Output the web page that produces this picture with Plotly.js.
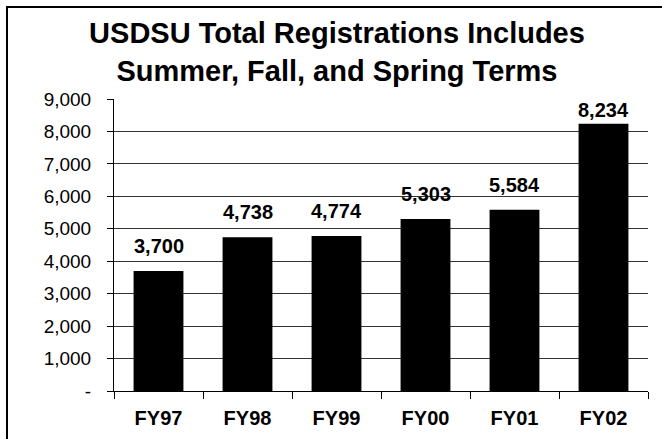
<!DOCTYPE html>
<html>
<head>
<meta charset="utf-8">
<script src="https://cdn.plot.ly/plotly-3.0.1.min.js"></script>
<style>
  html, body { margin: 0; padding: 0; background: #fff; overflow: hidden; }
  #wrap { position: relative; width: 662px; height: 439px; }
  #chart { position: absolute; left: 0; top: 0; width: 662px; height: 439px; }
  #frame { position: absolute; left: 6px; top: 6px; width: 700px; height: 500px;
           border-left: 2px solid #000; border-top: 2px solid #000; pointer-events: none; z-index: 5; }
</style>
</head>
<body>
<div id="wrap">
  <div id="chart"></div>
  <div id="frame"></div>
</div>
<script>
const categories = ["FY97", "FY98", "FY99", "FY00", "FY01", "FY02"];
const registrations = [3700, 4738, 4774, 5303, 5584, 8234];
const yTickVals = [0, 1000, 2000, 3000, 4000, 5000, 6000, 7000, 8000, 9000];
const yTickText = ["-", "1,000", "2,000", "3,000", "4,000", "5,000", "6,000", "7,000", "8,000", "9,000"];
const titleText = "USDSU Total Registrations Includes<br>Summer, Fall, and Spring Terms";

const W = 662, H = 439;
const margin = { l: 114, r: 14, t: 99, b: 48 };
const yMax = 9000;
const pxPerUnit = (H - margin.t - margin.b) / yMax;
const fmt = v => v.toLocaleString("en-US");

const annotations = categories.map((c, i) => {
  const v = registrations[i];
  const room = (yMax - v) * pxPerUnit - 24;
  return {
    x: c, y: v, xref: "x", yref: "y",
    text: "<b>" + fmt(v) + "</b>",
    showarrow: false, yanchor: "bottom", xanchor: "center",
    yshift: Math.max(0, Math.min(12, room)),
    font: { family: "Liberation Sans, Arial, sans-serif", size: 20, color: "#000" }
  };
});

const trace = {
  type: "bar",
  x: categories,
  y: registrations,
  marker: { color: "#000", line: { color: "#000", width: 0 } },
  hoverinfo: "x+y"
};

const layout = {
  width: W, height: H,
  margin: margin,
  paper_bgcolor: "#fff",
  plot_bgcolor: "#fff",
  showlegend: false,
  bargap: 0.44,
  font: { family: "Liberation Sans, Arial, sans-serif", color: "#000" },
  title: {
    text: "<b>" + titleText + "</b>",
    font: { family: "Liberation Sans, Arial, sans-serif", size: 29, color: "#000" },
    x: 337 / W, xref: "container", xanchor: "center",
    y: 1 - 43 / H, yref: "container", yanchor: "middle"
  },
  xaxis: {
    type: "category",
    showline: true, linecolor: "#000", linewidth: 1,
    ticks: "outside", ticklen: 7, tickcolor: "#000", tickwidth: 1,
    tickson: "boundaries",
    showgrid: false, zeroline: false,
    ticklabelstandoff: 9,
    tickfont: { family: "Liberation Sans, Arial, sans-serif", size: 20, color: "#000", weight: "bold" }
  },
  yaxis: {
    range: [0, yMax],
    tickmode: "array", tickvals: yTickVals, ticktext: yTickText,
    showline: true, linecolor: "#000", linewidth: 1,
    ticks: "outside", ticklen: 6, tickcolor: "#000", tickwidth: 1,
    showgrid: true, gridcolor: "#333", gridwidth: 1,
    zeroline: false,
    ticklabelstandoff: 12,
    tickfont: { family: "Liberation Sans, Arial, sans-serif", size: 19, color: "#000" }
  },
  annotations: annotations
};

Plotly.newPlot("chart", [trace], layout, { displayModeBar: false, staticPlot: true });
</script>
</body>
</html>
